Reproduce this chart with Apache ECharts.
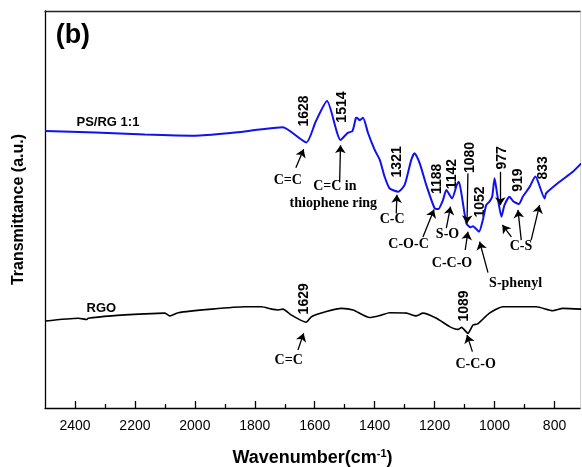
<!DOCTYPE html>
<html>
<head>
<meta charset="utf-8">
<script src="https://cdn.jsdelivr.net/npm/echarts@6/dist/echarts.min.js"></script>
<style>html,body{margin:0;padding:0;background:#fff}#c{width:582px;height:467px}</style>
</head>
<body>
<div id="c"></div>
<script>
// ---- data ----
const psWavenumber = [2500,2333,2167,2000,1890,1777,1707,1628,1597,1559,1514,1490,1474,1463,1459,1450,1439,1422,1400,1383,1367,1350,1321,1300,1278,1267,1250,1228,1200,1188,1172,1161,1142,1126,1119,1111,1094,1080,1072,1052,1039,1028,1017,1008,1000,992,977,967,950,937,919,906,883,864,833,828,783,739,711];
const psTrans = [69.8,69.4,68.9,68.6,69.2,70.2,70.7,66.9,72.1,77.3,67.5,69.3,69.8,73.0,73.1,72.5,73.1,69.2,65.0,62.5,58.3,55.3,54.5,56.2,62.5,64.2,61.7,56.2,50.3,50.1,52.4,54.9,52.8,56.2,57.0,54.2,46.5,45.5,45.8,44.4,47.4,51.1,52.0,53.2,57.9,54.2,48.2,51.1,53.2,52.0,51.4,53.2,55.7,58.3,52.8,54.1,57.0,59.5,61.6];
const rgoWavenumber = [2500,2389,2360,2356,2278,2167,2100,2083,2056,1944,1833,1778,1744,1722,1706,1678,1629,1611,1561,1511,1472,1417,1378,1350,1294,1261,1239,1194,1150,1122,1110,1089,1072,1056,1017,972,861,806,772,711];
const rgoTrans = [21.9,22.6,22.3,22.6,23.2,23.7,23.9,23.2,24.0,24.9,25.5,25.5,24.9,24.7,24.9,23.4,21.6,23.0,24.3,25.1,24.7,22.8,23.4,24.0,23.9,23.2,23.9,22.6,20.5,19.8,20.3,18.8,20.9,21.2,23.9,25.5,25.5,24.5,25.1,24.9];
const majorTicks = [800,1000,1200,1400,1600,1800,2000,2200,2400];
const minorTicks = [900,1100,1300,1500,1700,1900,2100,2300];

// peak number labels [text, wavenumber, value]
const peakLabels = [
  ['1628',1637,74.8],['1514',1510,75.8],['1321',1325,62.0],['1188',1192,57.7],
  ['1142',1140,58.9],['1080',1080,63.1],['1052',1047,51.9],['977',975,63.0],
  ['919',923,57.4],['833',837,60.5],['1629',1637,27.5],['1089',1100,25.7]
];
// assignment labels [text, wavenumber, value]
const bondLabels = [
  ['C=C',1690,57.4],['C=C in',1533,55.7],['thiophene ring',1538,51.6],['C-C',1342,47.6],
  ['C-O-C',1287,41.3],['S-O',1157,43.8],['C-C-O',1142,36.5],['S-phenyl',930,31.5],
  ['C-S',912,40.8],['C=C',1687,12.1],['C-C-O',1063,11.1]
];
// arrows [fromW, fromV, toW, toV]
const arrows = [
  [1663,60.5,1637,65.2],[1517,56.9,1514,66.2],[1328,49.0,1326,53.7],[1239,43.1,1202,50.0],
  [1161,45.3,1147,50.7],[1089,59.1,1092,46.5],[1098,39.8,1089,44.4],[1022,34.1,1050,41.9],
  [981,59.5,981,51.1],[944,43.1,974,46.1],[911,42.3,922,49.9],[878,42.3,850,51.1],
  [1656,14.6,1637,18.8],[1074,14.2,1092,18.4]
];
const seriesNames = [['PS/RG 1:1',2290,72.0],['RGO',2312,25.2]];
const panelTag = ['(b)',2407,93.7];

const chart = echarts.init(document.getElementById('c'), null, {renderer:'canvas'});
const sans = '"Liberation Sans", Arial, sans-serif';
const serif = '"Liberation Serif", "Times New Roman", serif';

const option = {
  animation:false,
  grid:{left:45,right:2,top:11,bottom:59,show:false,containLabel:false,outerBoundsMode:'none'},
  xAxis:[{
    type:'value', inverse:true, min:715, max:2500, position:'bottom',
    axisLine:{show:true,lineStyle:{color:'#000',width:1.3}},
    axisTick:{show:true,inside:true,length:7,customValues:majorTicks,lineStyle:{color:'#000',width:1.3}},
    axisLabel:{show:true,customValues:majorTicks,margin:11,fontFamily:sans,fontSize:14,color:'#000',
      formatter:v=>String(v)},
    splitLine:{show:false},
    name:'Wavenumber(cm{sup|-1})', nameLocation:'middle', nameGap:40,
    nameTextStyle:{fontFamily:sans,fontSize:18,fontWeight:'bold',color:'#000',
      rich:{sup:{fontFamily:sans,fontSize:11,fontWeight:'bold',color:'#000',verticalAlign:'top',padding:[0,0,10,0]}}}
  },{
    type:'value', inverse:true, min:715, max:2500, position:'bottom',
    axisLine:{show:false},
    axisTick:{show:true,inside:true,length:4,customValues:minorTicks,lineStyle:{color:'#000',width:1.3}},
    axisLabel:{show:false}, splitLine:{show:false}
  },{
    type:'value', inverse:true, min:715, max:2500, position:'top',
    axisLine:{show:true,lineStyle:{color:'#222',width:1.3}},
    axisTick:{show:false}, axisLabel:{show:false}, splitLine:{show:false}
  }],
  yAxis:[{
    type:'value', min:0, max:100, position:'left',
    axisLine:{show:true,lineStyle:{color:'#000',width:1.3}},
    axisTick:{show:false}, axisLabel:{show:false}, splitLine:{show:false},
    name:'Transmittance (a.u.)', nameLocation:'middle', nameGap:18,
    nameTextStyle:{fontFamily:sans,fontSize:16,fontWeight:'bold',color:'#000'}
  },{
    type:'value', min:0, max:100, position:'right',
    axisLine:{show:true,lineStyle:{color:'#d0d0d0',width:1}},
    axisTick:{show:false}, axisLabel:{show:false}, splitLine:{show:false}
  }],
  series:[{
    type:'line', name:'PS/RG 1:1', showSymbol:false, symbol:'none', smooth:0.2,
    data: psWavenumber.map((w,i)=>[w,psTrans[i]]),
    lineStyle:{color:'#1010f0',width:2}
  },{
    type:'line', name:'RGO', showSymbol:false, symbol:'none', smooth:0.2,
    data: rgoWavenumber.map((w,i)=>[w,rgoTrans[i]]),
    lineStyle:{color:'#000',width:1.6},
    markLine:{
      silent:true, symbol:['none','arrow'], symbolSize:8, precision:2,
      label:{show:false}, emphasis:{disabled:true},
      lineStyle:{color:'#000',width:1.3,type:'solid'},
      data: arrows.map(a=>[{coord:[a[0],a[1]]},{coord:[a[2],a[3]]}])
    }
  }]
};
chart.setOption(option);

const px = (w,v)=>chart.convertToPixel({xAxisIndex:0,yAxisIndex:0},[w,v]);
const graphics = [];
peakLabels.forEach(p=>{
  const [x,y] = px(p[1],p[2]);
  graphics.push({type:'text',x:x,y:y,rotation:Math.PI/2,silent:true,
    style:{text:p[0],font:'bold 14px '+sans,fill:'#000',align:'center',verticalAlign:'middle'}});
});
bondLabels.forEach(p=>{
  const [x,y] = px(p[1],p[2]);
  graphics.push({type:'text',x:x,y:y,silent:true,
    style:{text:p[0],font:'bold 14px '+serif,fill:'#000',align:'center',verticalAlign:'middle'}});
});
seriesNames.forEach(p=>{
  const [x,y] = px(p[1],p[2]);
  graphics.push({type:'text',x:x,y:y,silent:true,
    style:{text:p[0],font:'bold 13px '+sans,fill:'#000',align:'center',verticalAlign:'middle'}});
});
{
  const [x,y] = px(panelTag[1],panelTag[2]);
  graphics.push({type:'text',x:x,y:y,silent:true,
    style:{text:panelTag[0],font:'bold 27px '+sans,fill:'#000',align:'center',verticalAlign:'middle'}});
}
chart.setOption({graphic:graphics});
</script>
</body>
</html>
